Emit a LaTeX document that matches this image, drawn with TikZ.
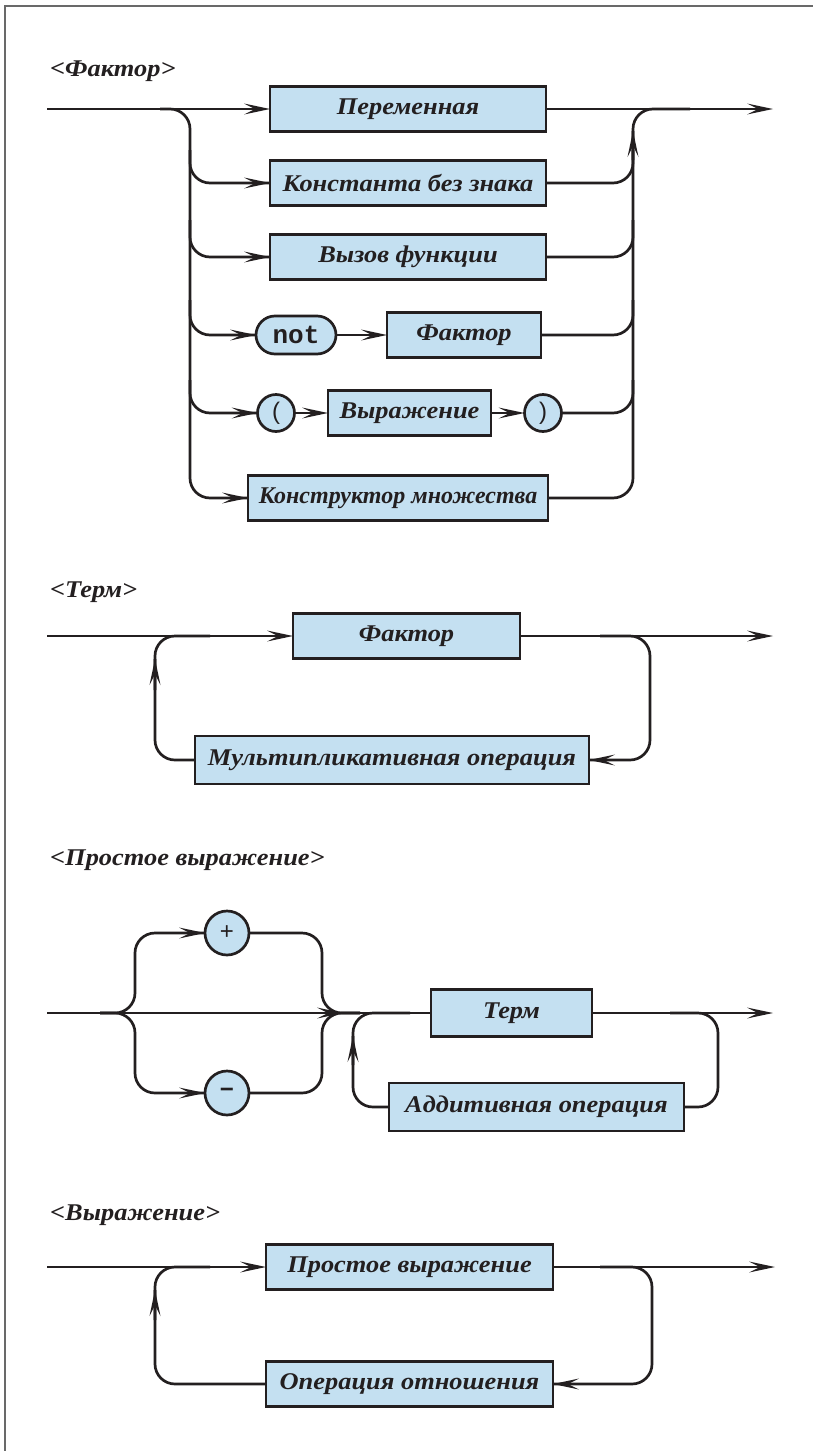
\documentclass[tikz,border=0pt]{standalone}
\usepackage{fontspec}
\newfontfamily\lblfont[FakeStretch=1.1]{Liberation Serif}
\newfontfamily\lblnarrow{Liberation Serif}
\newfontfamily\codefont{Liberation Mono}
\newfontfamily\symfont{Liberation Sans}
\usetikzlibrary{arrows.meta}
\definecolor{boxfill}{RGB}{196,224,241}
\definecolor{ink}{RGB}{35,31,32}
\definecolor{framegray}{RGB}{105,105,105}
\tikzset{
  >={Stealth[length=26pt,width=11pt,inset=11pt,line width=0pt]},
  line/.style={draw=ink,line width=2.7pt},
  wire/.style={line,rounded corners=20pt},
  arr/.style={line,->},
  nt/.style={draw=ink,fill=boxfill,line width=2.7pt,rectangle,inner sep=0pt,outer sep=0pt,
    minimum height=45pt,font=\lblfont\bfseries\itshape\fontsize{24}{28}\selectfont,text=ink},
  kw/.style={draw=ink,fill=boxfill,line width=2.7pt,rectangle,rounded corners=19pt,inner sep=0pt,
    outer sep=0pt,minimum width=80pt,minimum height=38pt,font=\codefont\bfseries\fontsize{26}{30}\selectfont,text=ink},
  sym/.style={draw=ink,fill=boxfill,line width=2.7pt,circle,inner sep=0pt,outer sep=0pt,
    font=\symfont\fontsize{24}{28}\selectfont,text=ink},
  title/.style={anchor=base west,inner sep=0pt,font=\lblfont\bfseries\itshape\fontsize{24}{28}\selectfont,text=ink}
}
\begin{document}
\begin{tikzpicture}[x=1pt,y=-1pt]
\useasboundingbox (0,0) rectangle (813,1451);
% page frame
\draw[framegray,line width=2pt] (813,6) -- (5,6) -- (5,1451);

% ---------- <Фактор> ----------
\node[title] (h1) at (50,76) {<Фактор>};
\node[nt,minimum width=276pt] (var) at (408,109) {Переменная};
\node[nt,minimum width=276pt] (const) at (408,183) {Константа без знака};
\node[nt,minimum width=276pt] (call) at (408,257) {Вызов функции};
\node[kw] (not) at (296,335) {not};
\node[nt,minimum width=154pt] (fac) at (464,335) {Фактор};
\node[sym,minimum size=37pt] (lp) at (276,413) {(};
\node[nt,minimum width=163pt] (expr) at (409.5,413) {Выражение};
\node[sym,minimum size=37pt] (rp) at (543,413) {)};
\node[nt,minimum width=300pt,font=\lblnarrow\bfseries\itshape\fontsize{24}{28}\selectfont] (set) at (398,498) {Конструктор множества};
\coordinate (in1) at (47,109);
\coordinate (out1) at (773,109);

\draw[arr] (in1) -- (var.west);
\draw[arr] (var.east) -- (out1);
% left fan-out
\draw[wire] (160,109) -- (190,109) -- (190,498) -- (set.west);
\draw[wire] (190,150) |- (const.west);
\draw[wire] (190,220) |- (call.west);
\draw[wire] (190,300) |- (not.west);
\draw[wire] (190,380) |- (lp.west);
\draw[arr] ([xshift=-30pt]set.west) -- (set.west);
\draw[arr] ([xshift=-30pt]const.west) -- (const.west);
\draw[arr] ([xshift=-30pt]call.west) -- (call.west);
\draw[arr] ([xshift=-30pt]not.west) -- (not.west);
\draw[arr] ([xshift=-30pt]lp.west) -- (lp.west);
\draw[arr] (not.east) -- (fac.west);
\draw[arr] (lp.east) -- (expr.west);
\draw[arr] (expr.east) -- (rp.west);
% right fan-in
\draw[wire] (set.east) -| (633,131);
\draw[wire] (633,160) |- (690,109);
\draw[arr] (633,165) -- (633,131);
\draw[wire] (const.east) -| (633,150);
\draw[wire] (call.east) -| (633,220);
\draw[wire] (fac.east) -| (633,300);
\draw[wire] (rp.east) -| (633,380);

% ---------- <Терм> ----------
\node[title] (h2) at (50,597) {<Терм>};
\node[nt,minimum width=227pt] (fac2) at (406.5,636) {Фактор};
\node[nt,minimum width=394pt,minimum height=48pt] (mul) at (392,760) {Мультипликативная операция};
\coordinate (in2) at (47,636);
\coordinate (out2) at (773,636);
\draw[arr] (in2) -- (fac2.west);
\draw[arr] (fac2.east) -- (out2);
\draw[wire] (600,636) -- (650,636) -- (650,760) -- (mul.east);
\draw[arr] ([xshift=30pt]mul.east) -- (mul.east);
\draw[wire] (mul.west) -| (155,659);
\draw[wire] (155,690) |- (210,636);
\draw[arr] (155,695) -- (155,659);

% ---------- <Простое выражение> ----------
\node[title] (h3) at (50,865) {<Простое выражение>};
\node[sym,minimum size=44pt] (plus) at (227,933) {+};
\node[sym,minimum size=44pt,font=\symfont\bfseries\fontsize{24}{28}\selectfont] (minus) at (227,1093) {−};
\node[nt,minimum width=161pt,minimum height=47pt] (term) at (511.5,1013) {Терм};
\node[nt,minimum width=295pt,minimum height=48pt] (add) at (536.5,1107) {Аддитивная операция};
\coordinate (in3) at (47,1013);
\coordinate (join3) at (343,1013);
\coordinate (out3) at (773,1013);
\draw[line] (join3) -- (term.west);
\draw[arr] (in3) -- (join3);
\draw[arr] (term.east) -- (out3);
\draw[wire] (100,1013) -- (135,1013) -- (135,933) -- (plus.west);
\draw[wire] (100,1013) -- (135,1013) -- (135,1093) -- (minus.west);
\draw[arr] ([xshift=-30pt]plus.west) -- (plus.west);
\draw[arr] ([xshift=-30pt]minus.west) -- (minus.west);
\draw[wire] (plus.east) -- (322,933) -- (322,1013) -- (360,1013);
\draw[wire] (minus.east) -- (322,1093) -- (322,1013) -- (360,1013);
\draw[wire] (add.west) -| (353,1036);
\draw[wire] (353,1065) |- (410,1013);
\draw[arr] (353,1070) -- (353,1036);
\draw[wire] (670,1013) -- (718,1013) -- (718,1107) -- (add.east);

% ---------- <Выражение> ----------
\node[title] (h4) at (50,1220) {<Выражение>};
\node[nt,minimum width=287pt] (sexpr) at (409.5,1267) {Простое выражение};
\node[nt,minimum width=287pt] (rel) at (409.5,1384) {Операция отношения};
\coordinate (in4) at (47,1267);
\coordinate (out4) at (775,1267);
\draw[arr] (in4) -- (sexpr.west);
\draw[arr] (sexpr.east) -- (out4);
\draw[wire] (600,1267) -- (652,1267) -- (652,1384) -- (rel.east);
\draw[arr] ([xshift=30pt]rel.east) -- (rel.east);
\draw[wire] (rel.west) -| (155,1290);
\draw[wire] (155,1320) |- (210,1267);
\draw[arr] (155,1325) -- (155,1290);
\end{tikzpicture}
\end{document}
